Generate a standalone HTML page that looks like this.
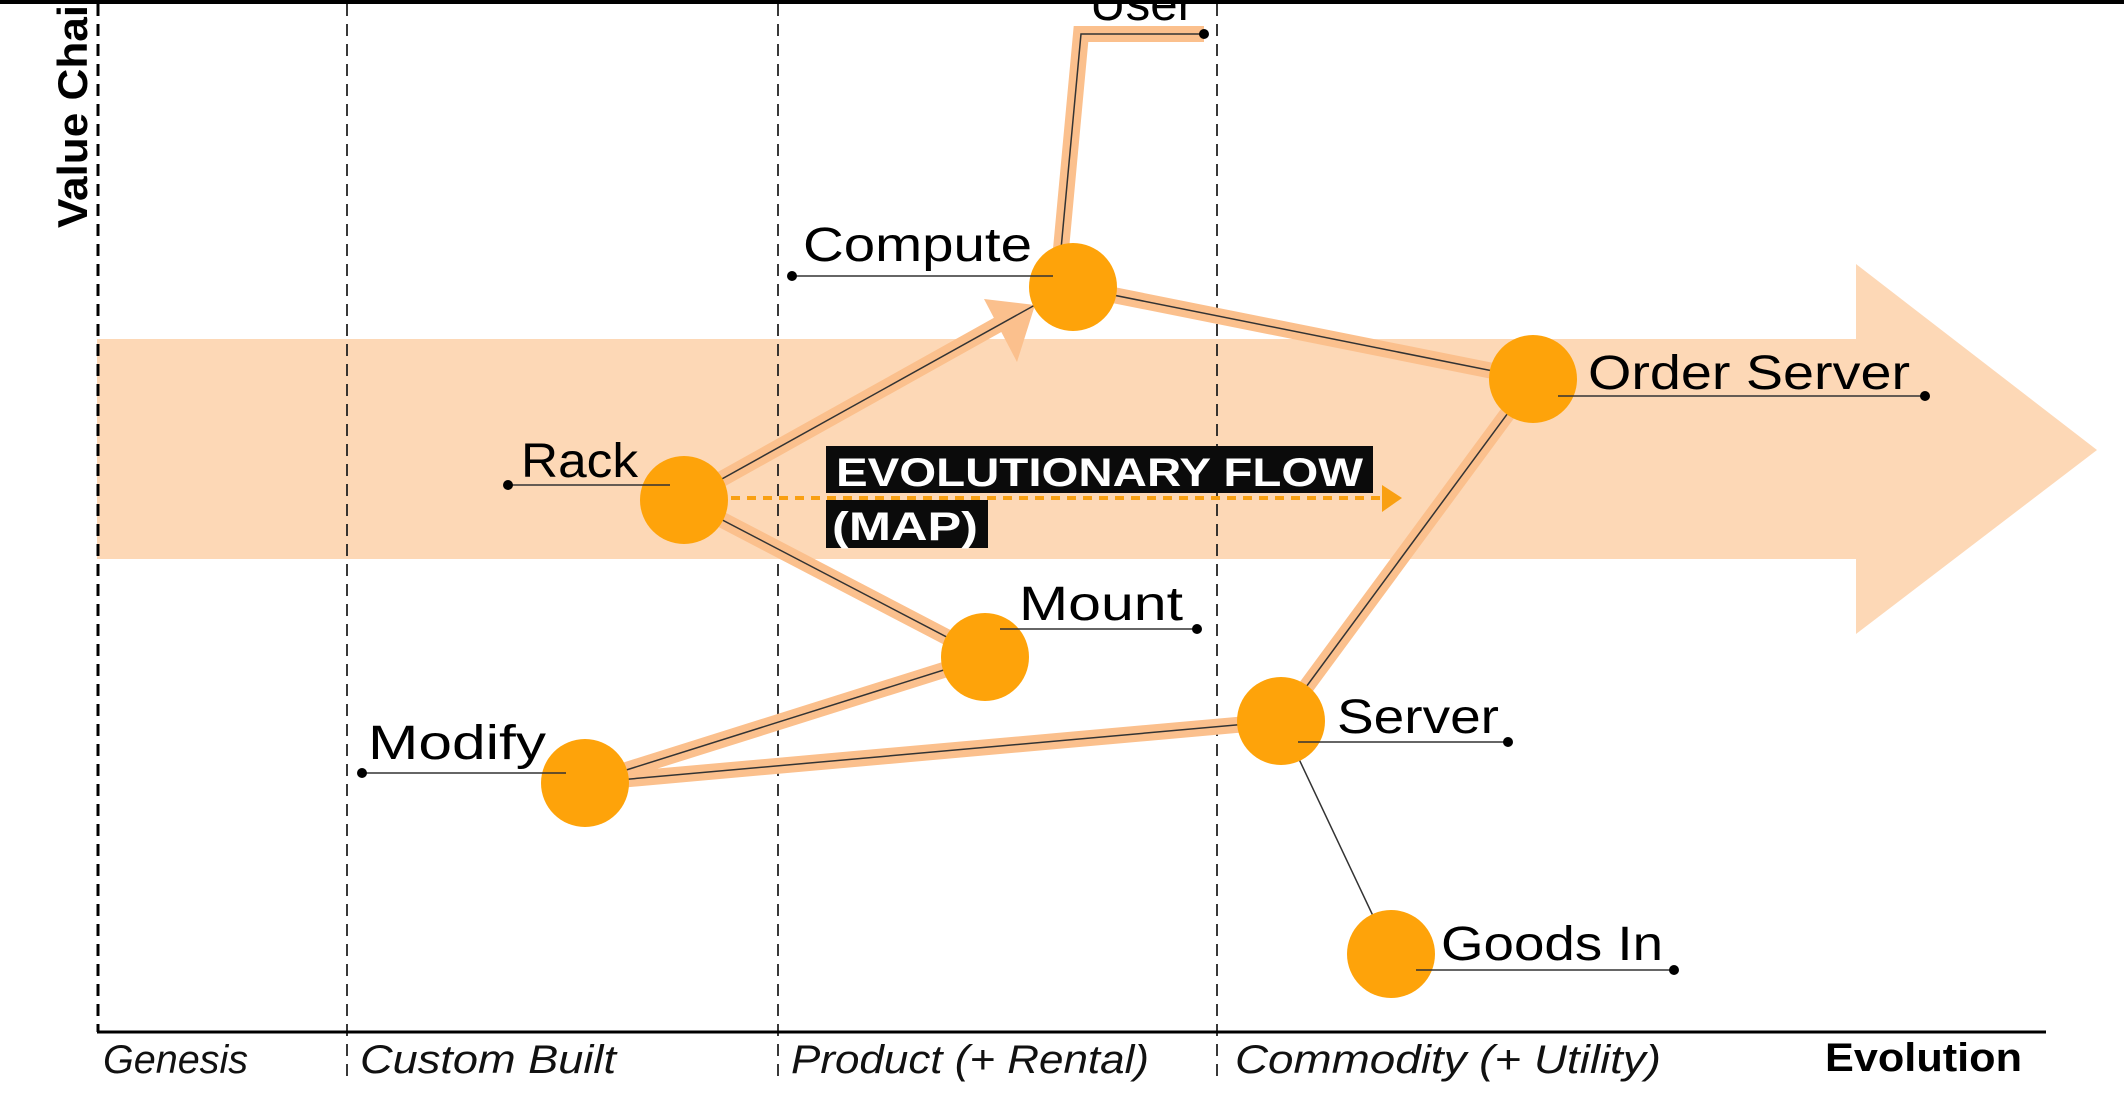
<!DOCTYPE html>
<html><head><meta charset="utf-8"><style>
html,body{margin:0;padding:0;background:#fff;width:2124px;height:1112px;overflow:hidden}
svg text{font-family:"Liberation Sans","DejaVu Sans",sans-serif}
</style></head><body>
<svg width="2124" height="1112" viewBox="0 0 2124 1112" xmlns="http://www.w3.org/2000/svg">
<rect x="0" y="0" width="2124" height="4" fill="#000"/>
<polygon points="97,339 1856,339 1856,264 2097,450 1856,634 1856,559 97,559" fill="#fdd8b6"/>
<g stroke="#222" stroke-width="1.8" stroke-dasharray="12,8" fill="none">
<line x1="347" y1="4" x2="347" y2="1077"/>
<line x1="778" y1="4" x2="778" y2="1077"/>
<line x1="1217" y1="4" x2="1217" y2="1077"/>
</g>
<line x1="98" y1="4" x2="98" y2="1032" stroke="#000" stroke-width="3" stroke-dasharray="12,8"/>
<line x1="97" y1="1032" x2="2046" y2="1032" stroke="#000" stroke-width="3"/>
<text transform="translate(87,228) rotate(-90)" font-size="42" font-weight="bold" fill="#000" textLength="250" lengthAdjust="spacingAndGlyphs">Value Chain</text>
<g stroke="#fbc08d" stroke-width="16" fill="none" stroke-linejoin="miter">
<line x1="684" y1="500" x2="1010" y2="318"/>
<line x1="1073" y1="287" x2="1533" y2="379"/>
<line x1="684" y1="500" x2="985" y2="657"/>
<line x1="985" y1="657" x2="585" y2="783"/>
<line x1="585" y1="783" x2="1281" y2="721"/>
<line x1="1281" y1="721" x2="1533" y2="379"/>
<polyline points="1060,260 1081,34 1204,34"/>
</g>
<polygon points="984,299 1035,305 1017,362" fill="#fbc08d"/>
<g stroke="#333" stroke-width="1.5" fill="none">
<line x1="684" y1="500" x2="1035" y2="305"/>
<line x1="1073" y1="287" x2="1533" y2="379"/>
<line x1="684" y1="500" x2="985" y2="657"/>
<line x1="985" y1="657" x2="585" y2="783"/>
<line x1="585" y1="783" x2="1281" y2="721"/>
<line x1="1281" y1="721" x2="1533" y2="379"/>
<line x1="1281" y1="721" x2="1391" y2="954"/>
<polyline points="1060,260 1081,34 1204,34"/>
</g>
<line x1="731" y1="498" x2="1385" y2="498" stroke="#f9a012" stroke-width="4" stroke-dasharray="9,7"/>
<polygon points="1382,485 1402,498 1382,512" fill="#f9a012"/>
<rect x="826" y="446" width="547" height="47" fill="#0b0b0b"/>
<rect x="826" y="500" width="162" height="48" fill="#0b0b0b"/>
<text x="836" y="486" font-size="40" font-weight="bold" fill="#fff" textLength="527" lengthAdjust="spacingAndGlyphs">EVOLUTIONARY FLOW</text>
<text x="832" y="540" font-size="40" font-weight="bold" fill="#fff" textLength="146" lengthAdjust="spacingAndGlyphs">(MAP)</text>
<g fill="#fea30a">
<circle cx="1073" cy="287" r="44"/>
<circle cx="1533" cy="379" r="44"/>
<circle cx="684" cy="500" r="44"/>
<circle cx="985" cy="657" r="44"/>
<circle cx="585" cy="783" r="44"/>
<circle cx="1281" cy="721" r="44"/>
<circle cx="1391" cy="954" r="44"/>
</g>
<g stroke="#333" stroke-width="1.5">
<line x1="792" y1="276" x2="1053" y2="276"/>
<line x1="1558" y1="396" x2="1925" y2="396"/>
<line x1="508" y1="485" x2="670" y2="485"/>
<line x1="1000" y1="629" x2="1197" y2="629"/>
<line x1="362" y1="773" x2="566" y2="773"/>
<line x1="1298" y1="742" x2="1508" y2="742"/>
<line x1="1416" y1="970" x2="1674" y2="970"/>
</g>
<g fill="#000">
<circle cx="792" cy="276" r="5"/><circle cx="1925" cy="396" r="5"/><circle cx="508" cy="485" r="5"/>
<circle cx="1197" cy="629" r="5"/><circle cx="362" cy="773" r="5"/><circle cx="1508" cy="742" r="5"/>
<circle cx="1674" cy="970" r="5"/><circle cx="1204" cy="34" r="5"/>
</g>
<g font-size="48" fill="#000">
<text x="803" y="261" textLength="229" lengthAdjust="spacingAndGlyphs">Compute</text>
<text x="1588" y="389" textLength="322" lengthAdjust="spacingAndGlyphs">Order Server</text>
<text x="521" y="477" textLength="117" lengthAdjust="spacingAndGlyphs">Rack</text>
<text x="1019" y="620" textLength="164" lengthAdjust="spacingAndGlyphs">Mount</text>
<text x="368" y="759" textLength="178" lengthAdjust="spacingAndGlyphs">Modify</text>
<text x="1337" y="733" textLength="162" lengthAdjust="spacingAndGlyphs">Server</text>
<text x="1441" y="960" textLength="222" lengthAdjust="spacingAndGlyphs">Goods In</text>
<text x="1090" y="20" textLength="104" lengthAdjust="spacingAndGlyphs">User</text>
</g>
<g font-size="40" font-style="italic" fill="#111">
<text x="103" y="1073" textLength="145" lengthAdjust="spacingAndGlyphs">Genesis</text>
<text x="360" y="1073" textLength="256" lengthAdjust="spacingAndGlyphs">Custom Built</text>
<text x="791" y="1073" textLength="358" lengthAdjust="spacingAndGlyphs">Product (+ Rental)</text>
<text x="1235" y="1073" textLength="426" lengthAdjust="spacingAndGlyphs">Commodity (+ Utility)</text>
</g>
<text x="1825" y="1071" font-size="40" font-weight="bold" fill="#000" textLength="197" lengthAdjust="spacingAndGlyphs">Evolution</text>
<rect x="0" y="0" width="2124" height="4" fill="#000"/>
</svg>
</body></html>
